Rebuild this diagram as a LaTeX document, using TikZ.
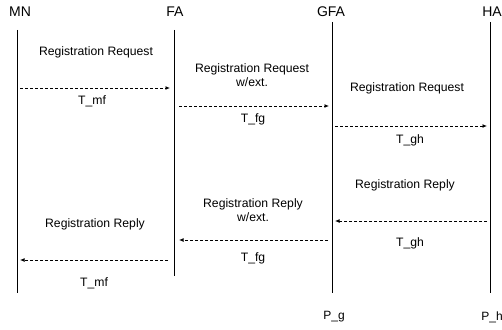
\documentclass[tikz,border=0pt]{standalone}
\usepackage{fontspec}
\setmainfont{Liberation Sans}
\usetikzlibrary{arrows.meta,positioning}

\begin{document}
\begin{tikzpicture}[
    x=1pt, y=-1pt,
    ent/.style={font=\fontsize{14}{15}\selectfont, inner sep=0pt},
    foot/.style={font=\fontsize{12}{13}\selectfont, inner sep=0pt},
    msg/.style={font=\fontsize{12.2}{13.5}\selectfont, align=center, inner sep=0pt},
    life/.style={line width=0.8pt},
    arr/.style={-{Latex[length=4.5pt,width=4pt]}, line width=0.9pt, dash pattern=on 3pt off 2pt}
  ]
  \useasboundingbox (0,0) rectangle (502,329);
  % entities
  \node[ent] (mn) at (20,12) {MN};
  \node[ent] (fa) at (175,12) {FA};
  \node[ent] (gfa) at (331,12) {GFA};
  \node[ent] (ha) at (492,12) {HA};
  \node[foot] (pg) at (334,317) {P\_g};
  \node[foot] (ph) at (492,317) {P\_h};
  % lifelines
  \coordinate (mnt) at (17,30);  \coordinate (mnb) at (17,293);
  \coordinate (fat) at (174,30); \coordinate (fab) at (174,276);
  \coordinate (gft) at (332,22); \coordinate (gfb) at (332,293);
  \coordinate (hat) at (490,22); \coordinate (hab) at (490,293);
  \draw[life] (mnt) -- (mnb);
  \draw[life] (fat) -- (fab);
  \draw[life] (gft) -- (gfb);
  \draw[life] (hat) -- (hab);
  % requests
  \coordinate (rq1a) at (20,88);   \coordinate (rq1b) at (170,88);
  \coordinate (rq2a) at (179,106); \coordinate (rq2b) at (329,106);
  \coordinate (rq3a) at (335,126); \coordinate (rq3b) at (487,126);
  \draw[arr] (rq1a) -- (rq1b);
  \draw[arr] (rq2a) -- (rq2b);
  \draw[arr] (rq3a) -- (rq3b);
  \node[msg] (req1) at (96,52) {Registration Request};
  \node[msg] (tmf1) at (92,101) {T\_mf};
  \node[msg] (req2) at (252,75) {Registration Request\\w/ext.};
  \node[msg] (tfg1) at (253,119) {T\_fg};
  \node[msg] (req3) at (407,88) {Registration Request};
  \node[msg] (tgh1) at (410,140) {T\_gh};
  % replies
  \coordinate (rp1a) at (487,221); \coordinate (rp1b) at (335,221);
  \coordinate (rp2a) at (328,240); \coordinate (rp2b) at (179,240);
  \coordinate (rp3a) at (168,260); \coordinate (rp3b) at (20,260);
  \draw[arr] (rp1a) -- (rp1b);
  \draw[arr] (rp2a) -- (rp2b);
  \draw[arr] (rp3a) -- (rp3b);
  \node[msg] (rep1) at (405,185) {Registration Reply};
  \node[msg] (tgh2) at (410,243) {T\_gh};
  \node[msg] (rep2) at (253,210) {Registration Reply\\w/ext.};
  \node[msg] (tfg2) at (253,258) {T\_fg};
  \node[msg] (rep3) at (95,224) {Registration Reply};
  \node[msg] (tmf2) at (94,283) {T\_mf};
\end{tikzpicture}
\end{document}
